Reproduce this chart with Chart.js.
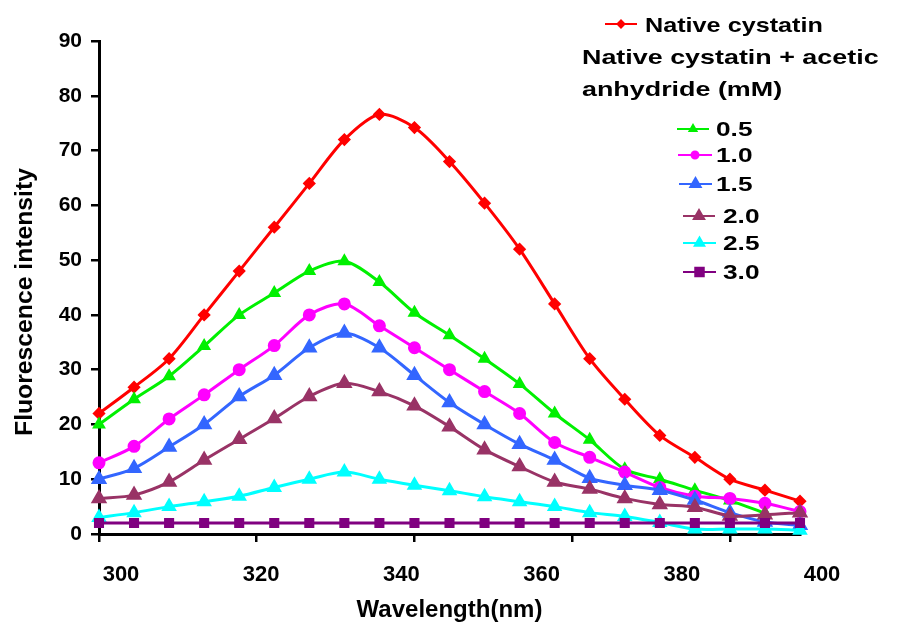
<!DOCTYPE html>
<html>
<head>
<meta charset="utf-8">
<script src="https://cdn.jsdelivr.net/npm/chart.js@4.4.1/dist/chart.umd.min.js"></script>
<style>
  html, body { margin: 0; padding: 0; background: #fff; }
  #wrap { width: 901px; height: 630px; }
</style>
</head>
<body>
<div id="wrap"><canvas id="fluoChart" width="901" height="630"></canvas></div>
<script>
// wavelength (nm) of each reading
const wavelengths = [300, 305, 310, 315, 320, 325, 330, 335, 340, 345, 350,
                     355, 360, 365, 370, 375, 380, 385, 390, 395, 400];

const nativeCystatin = [22, 26.8, 32, 40, 48, 56, 64, 72, 76.6, 74.2, 68,
                        60.4, 52, 42, 32, 24.6, 18, 14, 10, 8, 6];
const aa05 = [20, 24.6, 28.8, 34.3, 40, 44, 48, 49.8, 46, 40.4, 36.3,
              32, 27.4, 22, 17.2, 11.8, 10, 8, 6.1, 3.8, null];
const aa10 = [13, 16, 21, 25.4, 30, 34.4, 40, 42, 38, 34, 30,
              26, 22, 16.7, 14, 11.3, 8.5, 6.9, 6.5, 5.6, 4.1];
const aa15 = [10, 12, 15.9, 20, 25.1, 29, 34, 36.7, 34, 29, 24,
              20, 16.4, 13.5, 10.2, 8.9, 8, 6.2, 3.9, 2.2, 1.6];
const aa20 = [6.5, 7.1, 9.5, 13.5, 17.3, 21.1, 25.1, 27.5, 26, 23.4, 19.6,
              15.4, 12.3, 9.5, 8.2, 6.5, 5.4, 4.9, 3.3, 3.5, 3.9];
const aa25 = [3, 3.9, 5, 5.9, 6.9, 8.5, 10, 11.3, 10, 8.9, 7.9,
              6.8, 5.9, 5, 3.9, 3.2, 2.1, 0.9, 0.9, 0.9, 0.7];
const aa30 = [2, 2, 2, 2, 2, 2, 2, 2, 2, 2, 2,
              2, 2, 2, 2, 2, 2, 2, 2, 2, 2];

const seriesLabels = ['Native cystatin', '0.5', '1.0', '1.5', '2.0', '2.5', '3.0'];
const legendHeading = ['Native cystatin + acetic', 'anhydride (mM)'];
const yTitle = 'Fluorescence intensity';

// x axis: printed labels and the tick marks on the axis line
const xTickLabels = [300, 320, 340, 360, 380, 400];
const xTickMarks = [300, 322.5, 345, 367.5, 390];
const yTicks = [0, 10, 20, 30, 40, 50, 60, 70, 80, 90];

const FONT = '"Liberation Sans", Arial, Helvetica, sans-serif';

const toPoints = (vals) => wavelengths.map((w, i) => ({ x: w, y: vals[i] }));

const styles = [
  { color: '#ff0000', pointStyle: 'rectRot', radius: 4.5, legendRadius: 3.5 },
  { color: '#00f000', pointStyle: 'triangle', radius: 5, legendRadius: 4 },
  { color: '#ff00ff', pointStyle: 'circle', radius: 5, legendRadius: 3.5 },
  { color: '#3366ff', pointStyle: 'triangle', radius: 6.5, legendRadius: 6 },
  { color: '#993366', pointStyle: 'triangle', radius: 6.5, legendRadius: 6 },
  { color: '#00ffff', pointStyle: 'triangle', radius: 6, legendRadius: 5.5 },
  { color: '#800080', pointStyle: 'rect', radius: 5, legendRadius: 6 }
];

const allValues = [nativeCystatin, aa05, aa10, aa15, aa20, aa25, aa30];

const datasets = allValues.map((vals, i) => ({
  label: seriesLabels[i],
  data: toPoints(vals),
  borderColor: styles[i].color,
  backgroundColor: styles[i].color,
  pointBackgroundColor: styles[i].color,
  pointBorderColor: styles[i].color,
  pointStyle: styles[i].pointStyle,
  pointRadius: styles[i].radius,
  legendRadius: styles[i].legendRadius,
  borderWidth: 3,
  tension: 0.3,
  clip: false,
  order: allValues.length - i
}));

// legend at the top right and the y title, drawn like the original figure
const sideLegend = {
  id: 'sideLegend',
  afterDraw(chart) {
    const ctx = chart.ctx;
    const dsets = chart.data.datasets;
    ctx.save();
    ctx.font = 'bold 21px ' + FONT;
    ctx.textBaseline = 'middle';
    ctx.fillStyle = '#000';

    const text = (t, x, y, sx) => {
      ctx.save();
      ctx.translate(x, y);
      ctx.scale(sx, 1);
      ctx.fillText(t, 0, 0);
      ctx.restore();
    };
    const sample = (ds, x1, x2, y) => {
      ctx.save();
      ctx.strokeStyle = ds.borderColor;
      ctx.fillStyle = ds.borderColor;
      ctx.lineWidth = 2;
      ctx.beginPath();
      ctx.moveTo(x1, y);
      ctx.lineTo(x2, y);
      ctx.stroke();
      Chart.helpers.drawPoint(ctx, {
        pointStyle: ds.pointStyle, radius: ds.legendRadius, rotation: 0, borderWidth: 1
      }, (x1 + x2) / 2, y);
      ctx.restore();
    };

    sample(dsets[0], 605, 637, 24);
    text(dsets[0].label, 645, 26, 1.2);
    text(legendHeading[0], 582, 58, 1.28);
    text(legendHeading[1], 582, 90, 1.28);

    const rows = [
      [677, 709, 129, 716],
      [678, 712, 155, 716],
      [679, 712, 184, 716],
      [683, 715, 216, 723],
      [683, 716, 243, 723],
      [683, 716, 272, 723]
    ];
    rows.forEach((r, k) => {
      sample(dsets[k + 1], r[0], r[1], r[2]);
      text(dsets[k + 1].label, r[3], r[2] + 1, 1.25);
    });

    // y axis title
    ctx.save();
    ctx.font = 'bold 24px ' + FONT;
    ctx.textAlign = 'center';
    ctx.translate(25, 302);
    ctx.rotate(-Math.PI / 2);
    ctx.scale(1.03, 1);
    ctx.fillText(yTitle, 0, 0);
    ctx.restore();

    ctx.restore();
  }
};

new Chart(document.getElementById('fluoChart'), {
  type: 'line',
  data: { datasets },
  plugins: [sideLegend],
  options: {
    responsive: false,
    animation: false,
    layout: { padding: { top: 41, right: 101, left: 0, bottom: 0 } },
    plugins: {
      legend: { display: false },
      tooltip: { enabled: false }
    },
    scales: {
      x: {
        type: 'linear',
        min: 300,
        max: 400,
        afterBuildTicks: (scale) => {
          const vals = [...new Set([...xTickLabels, ...xTickMarks])].sort((a, b) => a - b);
          scale.ticks = vals.map((v) => ({ value: v }));
        },
        afterFit: (scale) => { scale.height = 96; },
        ticks: {
          autoSkip: false,
          maxRotation: 0,
          labelOffset: 22,
          padding: 20,
          color: '#000',
          font: { family: FONT, size: 22, weight: 'bold' },
          callback: (v) => (xTickLabels.includes(v) ? String(v) : '')
        },
        grid: {
          drawOnChartArea: false,
          tickLength: 8,
          lineWidth: 2.5,
          color: (c) => (c.tick && xTickMarks.includes(c.tick.value) ? '#000' : 'rgba(0,0,0,0)')
        },
        border: { color: '#000', width: 3 },
        title: {
          display: true,
          text: 'Wavelength(nm)',
          color: '#000',
          font: { family: FONT, size: 24, weight: 'bold' },
          padding: { top: 0, bottom: 5 }
        }
      },
      y: {
        min: 0,
        max: 90,
        afterBuildTicks: (scale) => { scale.ticks = yTicks.map((v) => ({ value: v })); },
        afterFit: (scale) => { scale.width = 99; },
        ticks: {
          padding: 9,
          color: '#000',
          font: { family: FONT, size: 21, weight: 'bold' }
        },
        grid: {
          drawOnChartArea: false,
          tickLength: 8,
          lineWidth: 2.5,
          color: '#000'
        },
        border: { color: '#000', width: 3 },
        title: { display: false }
      }
    }
  }
});
</script>
</body>
</html>
